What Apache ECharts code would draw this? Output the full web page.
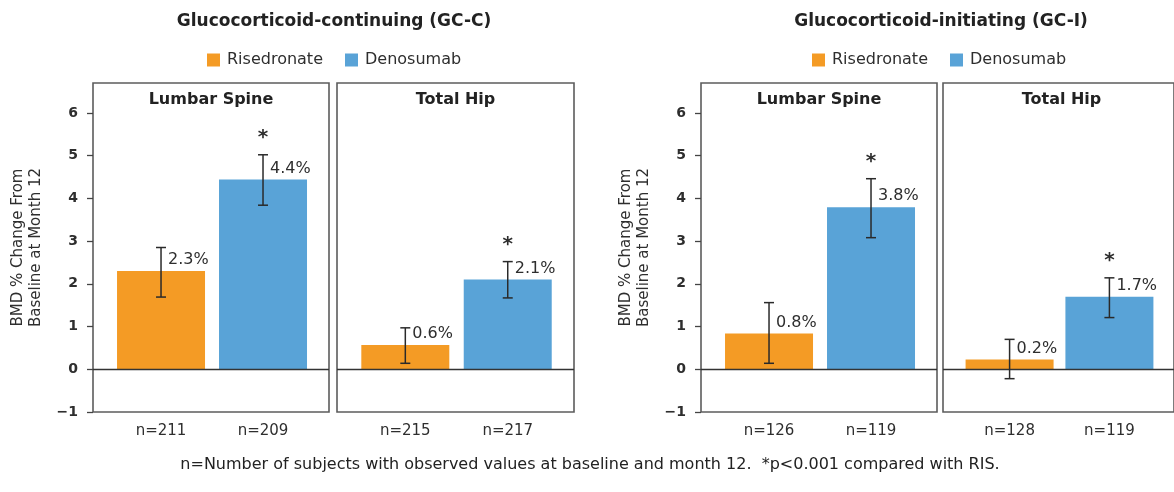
<!DOCTYPE html>
<html><head><meta charset="utf-8">
<script src="https://cdn.jsdelivr.net/npm/echarts@6/dist/echarts.min.js"></script>
<style>html,body{margin:0;padding:0;background:#fff}#c{width:1174px;height:492px}</style>
</head><body><div id="c"></div>
<script>
// ---------- data ----------
const groupTitles = ['Glucocorticoid-continuing (GC-C)', 'Glucocorticoid-initiating (GC-I)'];
const panelTitles = ['Lumbar Spine', 'Total Hip', 'Lumbar Spine', 'Total Hip'];
const seriesNames = ['Risedronate', 'Denosumab'];
const risMean = [2.30, 0.57, 0.84, 0.23];
const risLow  = [1.69, 0.14, 0.14, -0.22];
const risHigh = [2.85, 0.97, 1.56, 0.70];
const denMean = [4.44, 2.10, 3.79, 1.70];
const denLow  = [3.84, 1.67, 3.08, 1.21];
const denHigh = [5.02, 2.52, 4.46, 2.14];
const risN = [211, 215, 126, 128];
const denN = [209, 217, 119, 119];
const denSignificant = [true, true, true, true];
const yTicks = [-1, 0, 1, 2, 3, 4, 5, 6];
const armPos = [0, 1];
const yAxisTitle = 'BMD % Change From\nBaseline at Month 12';
const footnote = 'n=Number of subjects with observed values at baseline and month 12.  *p<0.001 compared with RIS.';

// ---------- layout / style ----------
const FONT = "'DejaVu Sans', sans-serif";
const ORANGE = '#F49B25';
const BLUE = '#59A3D7';
const TEXT = '#2e2e2e';
const gridLeft = [93, 337, 701, 943];
const gridWidth = [236, 237, 236, 237];
const gridTop = 83, gridHeight = 329;
const xMin = -0.667, xMax = 1.647;

const chart = echarts.init(document.getElementById('c'), null, {renderer: 'canvas'});

function renderErrors(params, api) {
  const x = api.value(0), lo = api.value(1), hi = api.value(2), mean = api.value(3), sig = api.value(4);
  const pTop = api.coord([x, hi]), pBot = api.coord([x, lo]), pMean = api.coord([x, mean]);
  const cap = 5;
  const st = {stroke: '#2a2a2a', lineWidth: 1.5};
  const children = [
    {type: 'line', shape: {x1: pTop[0], y1: pTop[1], x2: pBot[0], y2: pBot[1]}, style: st},
    {type: 'line', shape: {x1: pTop[0] - cap, y1: pTop[1], x2: pTop[0] + cap, y2: pTop[1]}, style: st},
    {type: 'line', shape: {x1: pBot[0] - cap, y1: pBot[1], x2: pBot[0] + cap, y2: pBot[1]}, style: st},
    {type: 'text', x: pMean[0] + 7, y: pMean[1] - 11,
     style: {text: mean.toFixed(1) + '%', fontSize: 16, fontFamily: FONT, fill: TEXT, align: 'left', verticalAlign: 'middle'}}
  ];
  if (sig) {
    children.push({type: 'text', x: pTop[0], y: pTop[1] - 17,
      style: {text: '*', fontSize: 20, fontWeight: 'bold', fontFamily: FONT, fill: TEXT, align: 'center', verticalAlign: 'middle'}});
  }
  return {type: 'group', children: children};
}

const grids = [], xAxes = [], yAxes = [], series = [], titles = [];
for (let i = 0; i < 4; i++) {
  const first = (i % 2 === 0);
  grids.push({left: gridLeft[i], width: gridWidth[i], top: gridTop, height: gridHeight,
    show: true, borderColor: '#5c5c5c', borderWidth: 1.6, containLabel: false});
  xAxes.push({type: 'value', gridIndex: i, min: xMin, max: xMax, position: 'bottom',
    splitLine: {show: false}, axisLine: {show: false, onZero: false}, axisTick: {show: false},
    axisLabel: {show: true, customValues: armPos, margin: 12, fontSize: 15, fontFamily: FONT, color: TEXT,
      formatter: (function (idx) { return function (v) { return 'n=' + (v < 0.5 ? risN[idx] : denN[idx]); }; })(i)}});
  yAxes.push({type: 'value', gridIndex: i, min: -1, max: 6.7, interval: 1, position: 'left',
    splitLine: {show: false}, axisLine: {show: false, onZero: false},
    axisTick: {show: first, customValues: yTicks, length: 6, lineStyle: {color: '#444', width: 1.3}},
    axisLabel: {show: first, customValues: yTicks, margin: 15, fontSize: 14, fontWeight: 'bold', fontFamily: FONT, color: TEXT,
      formatter: function (v) { return v < 0 ? '\u2212' + Math.abs(v) : String(v); }},
    name: first ? yAxisTitle : '', nameLocation: 'middle', nameGap: 48,
    nameTextStyle: {fontSize: 15, lineHeight: 18, fontFamily: FONT, color: TEXT}});
  series.push({type: 'bar', name: seriesNames[0], xAxisIndex: i, yAxisIndex: i,
    data: [[armPos[0], risMean[i]]], barWidth: 88, barGap: '-100%', itemStyle: {color: ORANGE},
    silent: true,
    markLine: {silent: true, symbol: 'none', label: {show: false},
      lineStyle: {color: '#333', width: 1.3, type: 'solid'}, data: [{yAxis: 0}]}});
  series.push({type: 'bar', name: seriesNames[1], xAxisIndex: i, yAxisIndex: i,
    data: [[armPos[1], denMean[i]]], barWidth: 88, barGap: '-100%', itemStyle: {color: BLUE}, silent: true});
  series.push({type: 'custom', name: 'error', xAxisIndex: i, yAxisIndex: i, z: 5, silent: true,
    renderItem: renderErrors,
    encode: {x: 0, y: [1, 2, 3]},
    data: [[armPos[0], risLow[i], risHigh[i], risMean[i], 0],
           [armPos[1], denLow[i], denHigh[i], denMean[i], denSignificant[i] ? 1 : 0]]});
  titles.push({text: panelTitles[i], left: gridLeft[i] + gridWidth[i] / 2, top: 92, textAlign: 'center', padding: 0,
    textStyle: {fontSize: 16, fontWeight: 'bold', fontFamily: FONT, color: '#222'}});
}
titles.push({text: groupTitles[0], left: 334, top: 13, textAlign: 'center', padding: 0,
  textStyle: {fontSize: 17, fontWeight: 'bold', fontFamily: FONT, color: '#222'}});
titles.push({text: groupTitles[1], left: 941, top: 13, textAlign: 'center', padding: 0,
  textStyle: {fontSize: 17, fontWeight: 'bold', fontFamily: FONT, color: '#222'}});
titles.push({text: footnote, left: 590, top: 457, textAlign: 'center', padding: 0,
  textStyle: {fontSize: 16, fontWeight: 'normal', fontFamily: FONT, color: '#222'}});

const legendBase = {data: seriesNames, top: 52, itemWidth: 13, itemHeight: 13, itemGap: 22, icon: 'rect',
  selectedMode: false, padding: 0, textStyle: {fontSize: 16, fontFamily: FONT, color: TEXT, padding: [0, 0, 0, 2]}};

chart.setOption({
  animation: false,
  backgroundColor: '#fff',
  textStyle: {fontFamily: FONT},
  title: titles,
  legend: [Object.assign({left: 207}, legendBase), Object.assign({left: 812}, legendBase)],
  grid: grids,
  xAxis: xAxes,
  yAxis: yAxes,
  series: series
});
</script></body></html>
